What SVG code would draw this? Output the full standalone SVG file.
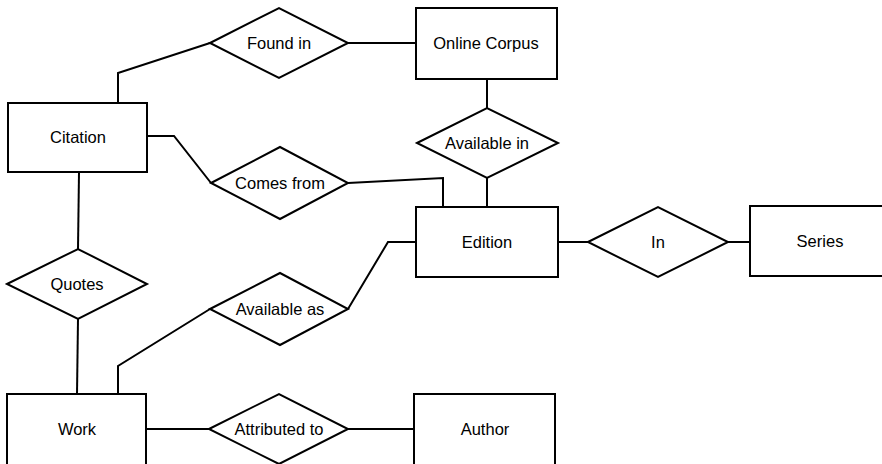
<svg xmlns="http://www.w3.org/2000/svg" width="882" height="464" viewBox="0 0 882 464">
<style>
.shape{fill:#fff;stroke:#000;stroke-width:2}
.conn{fill:none;stroke:#000;stroke-width:2;stroke-linejoin:miter}
text{font-family:"Liberation Sans",Arial,sans-serif;font-size:16.5px;fill:#000;text-anchor:middle;dominant-baseline:central}
</style>
<rect width="882" height="464" fill="#fff"/>
<g id="connectors">
<polyline class="conn" points="118,103 118,73 210,43"/>
<line class="conn" x1="348" y1="43" x2="416" y2="43"/>
<line class="conn" x1="487" y1="79" x2="487" y2="108"/>
<line class="conn" x1="487" y1="178" x2="487" y2="207"/>
<polyline class="conn" points="147,136 174,136 211,183"/>
<polyline class="conn" points="348,183 443,178 443,207"/>
<line class="conn" x1="558" y1="242" x2="588" y2="242"/>
<line class="conn" x1="728" y1="242" x2="750" y2="242"/>
<line class="conn" x1="79" y1="172" x2="78" y2="249"/>
<line class="conn" x1="78" y1="319" x2="77" y2="394"/>
<polyline class="conn" points="118,394 118,366 210,309"/>
<polyline class="conn" points="348,309 388,242 416,242"/>
<line class="conn" x1="146" y1="429" x2="209" y2="429"/>
<line class="conn" x1="348" y1="429" x2="414" y2="429"/>
</g>
<g id="citation"><rect class="shape" x="8" y="103" width="139" height="69"/><text x="78" y="137">Citation</text></g>
<g id="found-in"><polygon class="shape" points="210,43 279,8 348,43 279,78"/><text x="279" y="43">Found in</text></g>
<g id="online-corpus"><rect class="shape" x="416" y="8" width="141" height="71"/><text x="486" y="43">Online Corpus</text></g>
<g id="available-in"><polygon class="shape" points="417,143 487,108 558,143 487,178"/><text x="487" y="143">Available in</text></g>
<g id="comes-from"><polygon class="shape" points="211,183 280,147 348,183 280,219"/><text x="280" y="183">Comes from</text></g>
<g id="edition"><rect class="shape" x="416" y="207" width="142" height="70"/><text x="487" y="242">Edition</text></g>
<g id="in"><polygon class="shape" points="588,242 658,207 728,242 658,277"/><text x="658" y="242">In</text></g>
<g id="series"><rect class="shape" x="750" y="206" width="140" height="70"/><text x="820" y="241">Series</text></g>
<g id="quotes"><polygon class="shape" points="7,284 78,249 147,284 78,319"/><text x="77" y="284">Quotes</text></g>
<g id="available-as"><polygon class="shape" points="210,309 280,273 348,309 280,345"/><text x="280" y="309">Available as</text></g>
<g id="work"><rect class="shape" x="7" y="394" width="139" height="72"/><text x="77" y="429">Work</text></g>
<g id="attributed-to"><polygon class="shape" points="209,429 279,394 348,429 279,464"/><text x="279" y="429">Attributed to</text></g>
<g id="author"><rect class="shape" x="414" y="394" width="141" height="72"/><text x="485" y="429">Author</text></g>
</svg>
